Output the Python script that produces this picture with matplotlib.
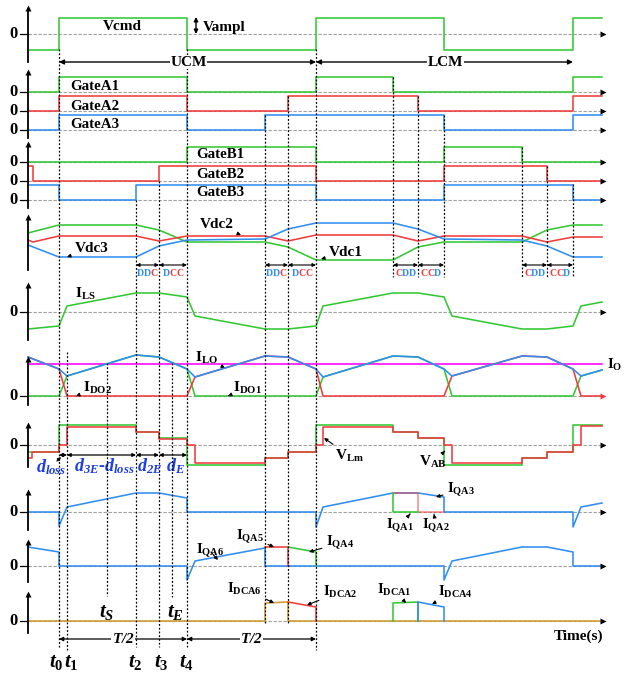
import matplotlib
matplotlib.use("Agg")
import matplotlib.pyplot as plt
import numpy as np

plt.rcParams.update({
    "font.family": ["Liberation Serif", "DejaVu Serif"],
    "font.weight": "bold",
    "mathtext.fontset": "custom",
    "mathtext.rm": "Liberation Serif",
    "mathtext.it": "Liberation Serif:italic",
    "mathtext.bf": "Liberation Serif:bold",
    "mathtext.bfit": "Liberation Serif:italic:bold",
})

GREEN = "#33c833"
RED = "#f03c3c"
BLUE = "#2f8ef0"
MAGENTA = "#ff00ff"
ORANGE = "#cf9b2a"
DBLUE = "#1c3ce6"
LW = 1.15

# ---------------- time instants (time axis units) ----------------
T_START, T_END = 28, 602
t0, t1, tS, t2, t3, tE, t4 = 59, 67, 107, 136, 159, 172, 187
t5, t6, t7, t8 = 265, 288, 316, 393
t9, t10, t11, t12, t13 = 418, 444, 522, 547, 573

# ---------------- command and gate signals ----------------
VCMD_T = [28, 59, 187, 316, 444, 573, 602]
VCMD_V = [-1, 1, -1, 1, -1, 1, 1]

GATE_A1_T = [28, 59, 187, 316, 393, 573, 602]
GATE_A1_V = [0, 1, 0, 1, 0, 1, 1]
GATE_A2_T = [28, 59, 187, 288, 418, 573, 602]
GATE_A2_V = [0, 1, 0, 1, 0, 1, 1]
GATE_A3_T = [28, 59, 187, 265, 444, 573, 602]
GATE_A3_V = [0, 1, 0, 1, 0, 1, 1]
GATE_B1_T = [28, 187, 316, 444, 522, 602]
GATE_B1_V = [0, 1, 0, 1, 0, 0]
GATE_B2_T = [28, 33, 159, 316, 444, 547, 602]
GATE_B2_V = [1, 0, 1, 0, 1, 0, 0]
GATE_B3_T = [28, 59, 136, 316, 444, 573, 602]
GATE_B3_V = [1, 0, 1, 0, 1, 0, 0]

# ---------------- capacitor voltages ----------------
VDC1_T = [28, 59, 136, 159, 187, 265, 288, 316, 393, 418, 444, 522, 547, 573, 602]
VDC1_V = [9, 17, 17, 12, 0, 0, -5, -18, -18, -5, 0, 0, 12, 17, 17]
VDC2_T = [28, 33, 59, 136, 159, 187, 265, 288, 316, 393, 418, 444, 522, 547, 573, 602]
VDC2_V = [2, 0, 6, 6, 1, 6, 6, 1, 7, 7, 1, 6, 6, 0, 5, 5]
VDC3_T = [28, 59, 136, 159, 187, 265, 288, 316, 393, 418, 444, 522, 547, 573, 602]
VDC3_V = [-3, -15, -15, -4, 2, 3, 13, 19, 19, 13, 3, 2, -4, -15, -15]

# ---------------- currents and voltages ----------------
ILS_T = [28, 59, 67, 136, 159, 187, 195, 265, 288, 316, 323, 393, 418, 444, 452, 522, 547, 573, 581, 602]
ILS_V = [-17, -14, 6, 19, 19, 15, -4, -17, -17, -14, 6, 19, 19, 15, -4, -17, -17, -14, 6, 10]

ILO_T = ILS_T
ILO_V = [39, 27, 20, 41, 39, 27, 19, 40, 39, 27, 19, 40, 39, 27, 20, 40, 39, 27, 20, 26]
IO_V = 32
IDO1_T = [28, 59, 67, 136, 159, 187, 195, 316, 323, 393, 418, 444, 452, 573, 581, 602]
IDO1_V = [0, 0, 20, 41, 39, 27, 0, 0, 19, 40, 39, 27, 0, 0, 20, 26]
IDO2_T = [28, 59, 67, 187, 195, 265, 288, 316, 323, 444, 452, 522, 547, 573, 581, 602]
IDO2_V = [39, 27, 0, 0, 19, 40, 39, 27, 0, 0, 20, 40, 39, 27, 0, 0]

VAB_T = [28, 59, 136, 159, 187, 265, 288, 316, 393, 418, 444, 522, 547, 573, 602]
VAB_V = [-7, 20, 13, 7, -20, -13, -7, 20, 13, 7, -20, -13, -7, 20, 20]
VLM_T = [28, 32, 59, 67, 136, 159, 187, 195, 265, 288, 316, 323, 393, 418, 444, 452, 522, 547, 573, 581, 602]
VLM_V = [-13, -7, 0, 18, 13, 6, 0, -18, -13, -7, 0, 18, 13, 7, 0, -18, -13, -7, 0, 19, 19]

IQA3_T = [28, 59, 59, 67, 136, 159, 187, 187, 316, 316, 323, 393, 418, 444, 444, 573, 573, 581, 602]
IQA3_V = [0, 0, -14, 5, 19, 19, 14, 0, 0, -15, 5, 19, 19, 15, 0, 0, -15, 5, 9]
IQA1_T = [393, 393, 418]
IQA1_V = [19, 0, 0]
IQA2_T = [393, 418, 418, 444]
IQA2_V = [19, 19, 0, 0]

IQA6_T = [28, 59, 59, 187, 187, 195, 265, 265, 444, 444, 452, 522, 547, 573, 573, 602]
IQA6_V = [19, 14, 0, 0, -14, 5, 18, 0, 0, -14, 5, 19, 19, 14, 0, 0]
IQA5_T = [265, 288, 288]
IQA5_V = [19, 19, 0]
IQA4_T = [288, 316, 316]
IQA4_V = [19, 14, 0]

IDCA6_T = [28, 265, 265, 288, 288, 602]
IDCA6_V = [0, 0, 18, 19, 0, 0]
IDCA2_T = [288, 316, 316]
IDCA2_V = [19, 14, 0]
IDCA1_T = [393, 393, 418, 418]
IDCA1_V = [0, 18, 19, 0]
IDCA4_T = [418, 418, 444, 444]
IDCA4_V = [0, 19, 14, 0]

# ---------------- layout of the stacked traces ----------------
ZERO = {"vcmd": 34, "A1": 92, "A2": 111, "A3": 130, "B1": 162, "B2": 181,
        "B3": 200, "vdc": 242, "ils": 312, "ilo": 396, "vab": 445,
        "iqa3": 512, "iqa6": 566, "idca": 621}
AXES_SPAN = [(62, 6), (138, 70), (208, 142), (270, 215), (340, 283),
             (405, 357), (467, 423), (530, 490), (582, 540), (633, 592)]
ZERO_MARKED = ["vcmd", "A1", "A2", "A3", "B1", "B2", "B3", "ils", "ilo",
               "vab", "iqa3", "iqa6", "idca"]
GATE_H = 15
VCMD_H = 16

fig = plt.figure(figsize=(6.24, 6.75), dpi=100)
ax = fig.add_axes([0, 0, 1, 1])
ax.set_xlim(0, 624)
ax.set_ylim(675, 0)
ax.axis("off")


def trace(t, v, zero, color, scale=1.0, steps=False, z=3, **kw):
    y = ZERO[zero] - scale * np.asarray(v, float)
    ax.plot(t, y, color=color, lw=LW, zorder=z,
            drawstyle="steps-post" if steps else "default", **kw)


# zero reference lines with arrowheads, left ticks and "0" labels
for key in ZERO_MARKED:
    y = ZERO[key]
    ax.plot([T_START, T_END - 2], [y, y], color="#a0a0a0", lw=0.8,
            ls=(0, (3, 1.5)), zorder=1)
    ax.plot(T_END + 1, y, marker=">", ms=4.5, color=RED if key == "ilo" else "black",
            mec="none", zorder=5)
    ax.plot([20, T_START], [y, y], color="black", lw=0.9, zorder=2)
    ax.text(13, y, "0", ha="center", va="center", fontsize=12)

# vertical axes with arrowheads
for yb, yt in AXES_SPAN:
    ax.plot([T_START, T_START], [yb, yt + 3], color="black", lw=1.3, zorder=4)
    ax.plot(T_START, yt + 2, marker="^", ms=5, color="black", mec="none", zorder=5)

# dashed timing guides
GUIDES = [(t0, 49, 647), (t1, 352, 650), (tS, 363, 596), (t2, 200, 647),
          (t3, 181, 647), (tE, 363, 597), (t4, 49, 647), (t5, 115, 623),
          (t6, 96, 623), (t7, 49, 650), (t8, 77, 277), (t9, 96, 277),
          (t10, 115, 277), (t11, 147, 277), (t12, 166, 277), (t13, 184, 277)]
for x, ya, yb in GUIDES:
    ax.plot([x, x], [ya, yb], color="black", lw=0.9, ls=(0, (1.5, 1.5)), zorder=6)

# Vcmd
trace(VCMD_T, VCMD_V, "vcmd", GREEN, scale=VCMD_H, steps=True)
ax.text(103, 27, "Vcmd", fontsize=11, va="center")
ax.annotate("", xy=(196, 17), xytext=(196, 34),
            arrowprops=dict(arrowstyle="<|-|>", lw=1.0, color="black",
                            mutation_scale=6, shrinkA=0, shrinkB=0))
ax.text(203, 27, "Vampl", fontsize=11, va="center")

# operating mode spans
for xa, xb, name in [(t0, t7, "UCM"), (t7, t13, "LCM")]:
    ax.annotate("", xy=(xa, 62), xytext=(xb, 62),
                arrowprops=dict(arrowstyle="<|-|>", lw=1.0, color="black",
                                mutation_scale=7, shrinkA=0, shrinkB=0))
    ax.text((xa + xb) / 2 + 1, 62, name, fontsize=11, ha="center", va="center",
            bbox=dict(fc="white", ec="none", pad=0.5), zorder=7)

# gate signals
trace(GATE_A1_T, GATE_A1_V, "A1", GREEN, scale=GATE_H, steps=True)
trace(GATE_A2_T, GATE_A2_V, "A2", RED, scale=GATE_H, steps=True)
trace(GATE_A3_T, GATE_A3_V, "A3", BLUE, scale=GATE_H, steps=True)
trace(GATE_B1_T, GATE_B1_V, "B1", GREEN, scale=GATE_H, steps=True)
trace(GATE_B2_T, GATE_B2_V, "B2", RED, scale=GATE_H, steps=True)
trace(GATE_B3_T, GATE_B3_V, "B3", BLUE, scale=GATE_H, steps=True)
for name, x, y in [("GateA1", 70, 86), ("GateA2", 70, 106), ("GateA3", 70, 124),
                   ("GateB1", 196, 155), ("GateB2", 196, 174), ("GateB3", 196, 192)]:
    ax.text(x, y, name, fontsize=10.8, va="center")

# capacitor voltages
trace(VDC1_T, VDC1_V, "vdc", GREEN)
trace(VDC2_T, VDC2_V, "vdc", RED)
trace(VDC3_T, VDC3_V, "vdc", BLUE)


def pointer(text, xy, xytext, size=10.5, ha="left", color="black"):
    ax.annotate(text, xy=xy, xytext=xytext, fontsize=size, ha=ha, va="center",
                color=color,
                arrowprops=dict(arrowstyle="-|>", lw=0.8, color="black",
                                mutation_scale=5, shrinkA=1, shrinkB=0))


pointer("Vdc3", (67, 257), (75, 248), size=11)
pointer("Vdc2", (241, 235), (200, 225), size=11)
pointer("Vdc1", (321, 259), (329, 253), size=11)

# commutation interval markers
MODES = [(t2, t3, "DDC"), (t3, t4, "DCC"), (t5, t6, "DDC"), (t6, t7, "DCC"),
         (t8, t9, "CDD"), (t9, t10, "CCD"), (t11, t12, "CDD"), (t12, t13, "CCD")]
for xa, xb, word in MODES:
    ax.annotate("", xy=(xa, 265), xytext=(xb, 265),
                arrowprops=dict(arrowstyle="<|-|>", lw=0.8, color="black",
                                mutation_scale=5, shrinkA=0, shrinkB=0))
    adv = 6.8
    xs = (xa + xb) / 2 - adv * (len(word) - 1) / 2
    for i, ch in enumerate(word):
        ax.text(xs + i * adv, 274, ch, fontsize=7, ha="center", va="center",
                color=BLUE if ch == "D" else RED)

# series inductor current
trace(ILS_T, ILS_V, "ils", GREEN)
ax.text(75, 294, r"$\mathbf{I_{LS}}$", fontsize=11, va="center")

# output-side currents
ax.plot([T_START, T_END], [ZERO["ilo"] - IO_V] * 2, color=MAGENTA, lw=LW, zorder=2)
trace(IDO1_T, IDO1_V, "ilo", GREEN)
trace(IDO2_T, IDO2_V, "ilo", RED)
trace(ILO_T, ILO_V, "ilo", BLUE, z=4)
pointer(r"$\mathbf{I_{LO}}$", (225, 368), (195, 358), size=11)
pointer(r"$\mathbf{I_{DO2}}$", (76, 396), (83, 388), size=11)
pointer(r"$\mathbf{I_{DO1}}$", (228, 396), (233, 388), size=11)
ax.text(607, 365, r"$\mathbf{I_{O}}$", fontsize=10.5, va="center")

# bridge and magnetizing voltages
trace(VAB_T, VAB_V, "vab", GREEN, steps=True)
trace(VLM_T, VLM_V, "vab", RED, steps=True)
pointer(r"$\mathbf{V_{Lm}}$", (324, 438), (335, 456), size=11)
pointer(r"$\mathbf{V_{AB}}$", (445, 451), (419, 462), size=11)

# duty-cycle intervals
for xa, xb in [(t0, t1), (t1, t2), (t2, t3), (t3, t4)]:
    ax.annotate("", xy=(xa, 455), xytext=(xb, 455),
                arrowprops=dict(arrowstyle="<|-|>", lw=0.9, color="black",
                                mutation_scale=5, shrinkA=0, shrinkB=0))
ax.annotate(r"$\mathbfit{d_{loss}}$", xy=(61, 457), xytext=(51, 467),
            fontsize=13, ha="center", va="center", color=DBLUE,
            arrowprops=dict(arrowstyle="-|>", lw=0.8, color="black",
                            mutation_scale=5, shrinkA=6, shrinkB=0))
ax.text(104, 466, r"$\mathbfit{d_{3E}}$-$\mathbfit{d_{loss}}$", fontsize=13,
        ha="center", va="center", color=DBLUE)
ax.text(150, 466, r"$\mathbfit{d_{2E}}$", fontsize=13, ha="center", va="center", color=DBLUE)
ax.text(176, 466, r"$\mathbfit{d_{E}}$", fontsize=13, ha="center", va="center", color=DBLUE)

# switch currents, leg A upper devices
trace(IQA3_T, IQA3_V, "iqa3", BLUE)
trace(IQA2_T, IQA2_V, "iqa3", RED, alpha=0.6)
trace(IQA1_T, IQA1_V, "iqa3", GREEN)
pointer(r"$\mathbf{I_{QA3}}$", (436, 497), (447, 490))
pointer(r"$\mathbf{I_{QA1}}$", (410, 514), (386, 526))
pointer(r"$\mathbf{I_{QA2}}$", (434, 514), (422, 526))

# switch currents, leg A lower devices
trace(IQA6_T, IQA6_V, "iqa6", BLUE)
trace(IQA5_T, IQA5_V, "iqa6", RED)
trace(IQA4_T, IQA4_V, "iqa6", GREEN)
pointer(r"$\mathbf{I_{QA6}}$", (218, 560), (196, 551))
pointer(r"$\mathbf{I_{QA5}}$", (274, 547), (236, 537))
pointer(r"$\mathbf{I_{QA4}}$", (309, 552), (326, 543))

# clamping diode currents
trace(IDCA6_T, IDCA6_V, "idca", ORANGE)
trace(IDCA1_T, IDCA1_V, "idca", GREEN)
trace(IDCA4_T, IDCA4_V, "idca", BLUE)
trace(IDCA2_T, IDCA2_V, "idca", RED)
pointer(r"$\mathbf{I_{DCA6}}$", (274, 603), (227, 589))
pointer(r"$\mathbf{I_{DCA2}}$", (307, 605), (323, 592))
pointer(r"$\mathbf{I_{DCA1}}$", (406, 603), (377, 590))
pointer(r"$\mathbf{I_{DCA4}}$", (432, 604), (438, 592))
ax.text(578, 636, "Time(s)", fontsize=11, ha="center", va="center")

# half-period spans
for xa, xb in [(t0, t4), (t4, t7)]:
    ax.annotate("", xy=(xa, 639), xytext=(xb, 639),
                arrowprops=dict(arrowstyle="<|-|>", lw=0.9, color="black",
                                mutation_scale=6, shrinkA=0, shrinkB=0))
    ax.text((xa + xb) / 2, 639, r"$\mathbfit{T/2}$", fontsize=11, ha="center",
            va="center", bbox=dict(fc="white", ec="none", pad=0.3), zorder=7)

# instant labels
for x, lab in [(56, r"$t_0$"), (71, r"$t_1$"), (135, r"$t_2$"), (161, r"$t_3$"),
               (186, r"$t_4$")]:
    ax.text(x, 662, lab, fontsize=15, ha="center", va="center")
ax.text(107, 612, r"$t_S$", fontsize=15, ha="center", va="center")
ax.text(175, 612, r"$t_E$", fontsize=15, ha="center", va="center")

fig.savefig("out.png", dpi=100)
